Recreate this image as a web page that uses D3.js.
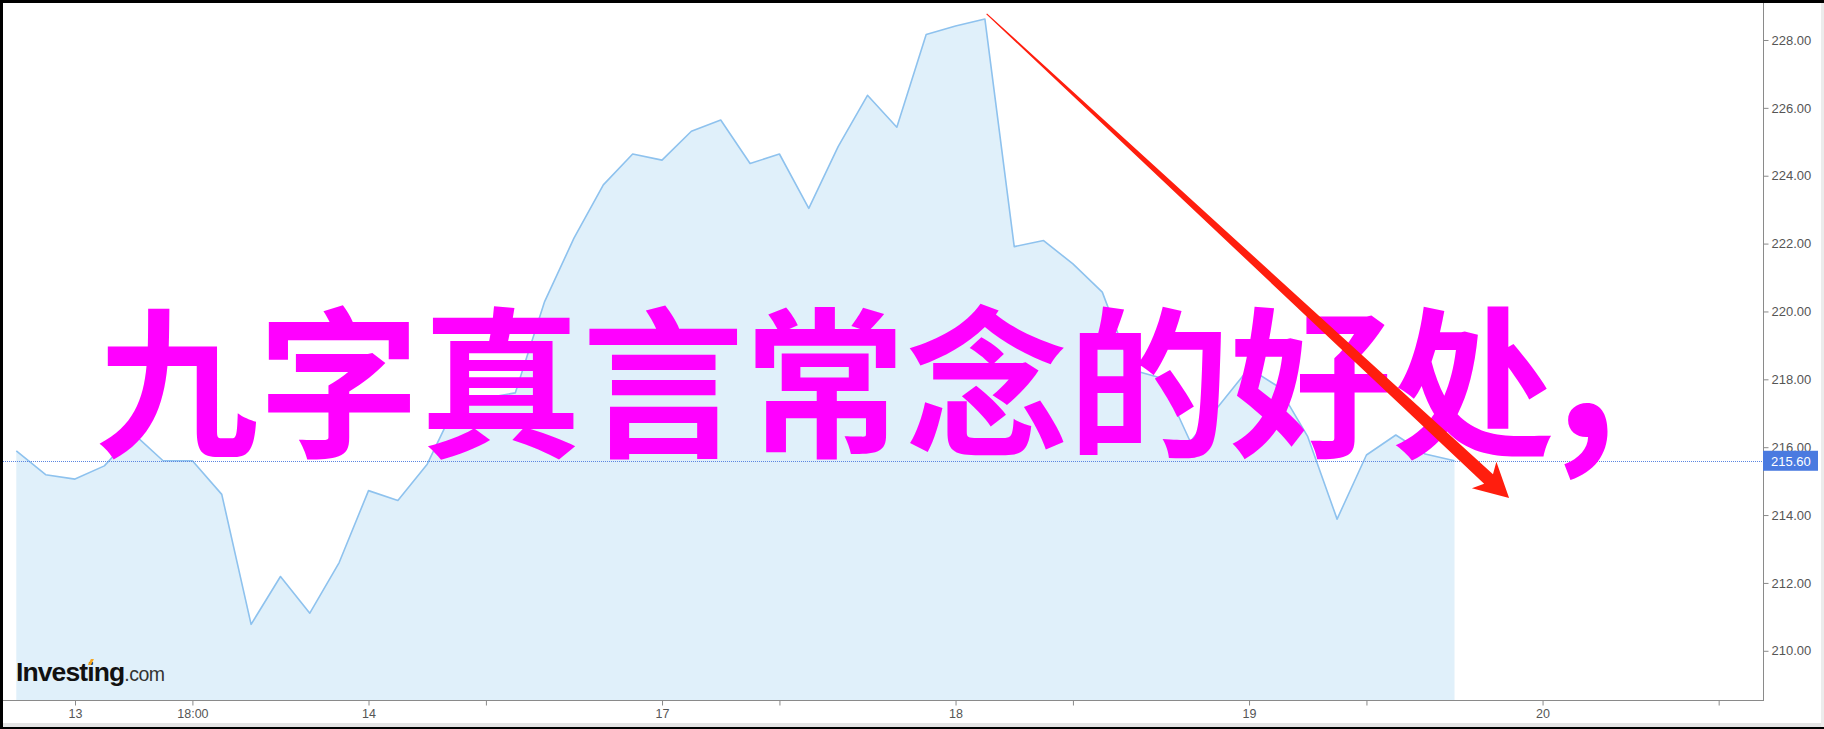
<!DOCTYPE html>
<html><head><meta charset="utf-8">
<script src="https://cdn.jsdelivr.net/npm/d3@7"></script>
<style>html,body{margin:0;padding:0;background:#000;overflow:hidden}</style>
</head><body><svg id="c" width="1824" height="729"></svg>
<script>
// ---- data ----
const prices = [215.89,215.19,215.06,215.45,216.39,215.60,215.60,214.61,210.78,212.19,
  211.11,212.60,214.72,214.43,215.50,217.30,217.45,217.60,220.29,222.16,
  223.73,224.64,224.46,225.31,225.64,224.36,224.64,223.04,224.86,226.37,
  225.43,228.16,228.41,228.62,221.91,222.09,221.40,220.57,218.28,218.04,
  216.16,217.25,218.33,217.78,216.31,213.88,215.77,216.36,215.80,215.60];
const steps = [0,1,2,3,4,5,6,7,8,9,10,11,12,13,14,15,16,17,18,19,20,21,22,23,24,
  25,26,27,28,29,30,31,32,33,34,35,36,37,38,39,40,41,42,43,44,45,46,47,48,49];
const xTickSteps = [2,6,12,16,22,26,32,36,42,46,52,58];
const xTickLabels = ["13","18:00","14","","17","","18","","19","","20",""];
const yTicks = [210,212,214,216,218,220,222,224,226,228];
const lastPrice = 215.60;
const titleText = "九字真言常念的好处";
const titlePunct = ",";
const arrowFrom = [33.06, 228.77];
const arrowTo = [50.86, 214.50];

// ---- layout ----
const svg = d3.select("#c");
const W = 1824, H = 729;
const plotL = 3, plotR = 1763, plotT = 3, plotB = 700;
const x = d3.scaleLinear().domain([0, 49]).range([16.3, 1454.5]);
const y = d3.scaleLinear().domain([208.55, 229.09]).range([plotB, plotT]);

// frame
svg.append("rect").attr("x",3).attr("y",3).attr("width",W-3).attr("height",724).attr("fill","#fff");
svg.append("rect").attr("x",3).attr("y",723).attr("width",W-3).attr("height",4).attr("fill","#e4e4e4");
svg.append("rect").attr("x",W-3).attr("y",3).attr("width",3).attr("height",724).attr("fill","#ececec");

const pts = steps.map((s,i)=>[s, prices[i]]);
// area
svg.append("path").datum(pts)
  .attr("d", d3.area().x(d=>x(d[0])).y0(plotB).y1(d=>y(d[1])))
  .attr("fill","#e0f0fa");
svg.append("path").datum(pts)
  .attr("d", d3.line().x(d=>x(d[0])).y(d=>y(d[1])))
  .attr("fill","none").attr("stroke","#8ec2ee").attr("stroke-width",1.6)
  .attr("stroke-linejoin","round");

// last price dotted line
svg.append("line").attr("x1",plotL).attr("x2",plotR)
  .attr("y1",Math.round(y(lastPrice))+0.5).attr("y2",Math.round(y(lastPrice))+0.5)
  .attr("stroke","#5b86e0").attr("stroke-width",1).attr("stroke-dasharray","1,1");

// axes
const yAxis = d3.axisRight(y).tickValues(yTicks).tickFormat(d3.format(".2f")).tickSize(5).tickPadding(3);
const gy = svg.append("g").attr("transform",`translate(${plotR+0.5},0)`).call(yAxis);
gy.select(".domain").attr("d",`M0,${plotT}V${plotB}`).attr("stroke","#8a8a8a");
gy.selectAll(".tick line").attr("stroke","#8a8a8a");
gy.selectAll(".tick text").attr("fill","#555").style("font","13px 'Liberation Sans', Arial, sans-serif");

const xAxis = d3.axisBottom(x).tickValues(xTickSteps)
  .tickFormat((d,i)=>xTickLabels[i]).tickSize(5).tickPadding(4);
const gx = svg.append("g").attr("transform",`translate(0,${plotB+0.5})`).call(xAxis);
gx.select(".domain").attr("d",`M${plotL},0H${plotR+1}`).attr("stroke","#8a8a8a");
gx.selectAll(".tick line").attr("stroke","#8a8a8a");
gx.selectAll(".tick text").attr("fill","#555").style("font","12.5px 'Liberation Sans', Arial, sans-serif");

// last price label
const ly = y(lastPrice);
svg.append("rect").attr("x",plotR).attr("y",ly-10).attr("width",55).attr("height",20).attr("fill","#4a7ae0");
svg.append("text").attr("x",plotR+8).attr("y",ly+5).attr("fill","#fff")
  .style("font","13px 'Liberation Sans', Arial, sans-serif").text(d3.format(".2f")(lastPrice));

// logo
const logo = svg.append("text").attr("x",16).attr("y",681);
const logoMain = logo.append("tspan").text("Investing").attr("fill","#111")
  .style("font","bold 26.5px 'Liberation Sans', Arial, sans-serif").style("letter-spacing","-0.9px");
logo.append("tspan").text(".com").attr("fill","#333")
  .style("font","19.5px 'Liberation Sans', Arial, sans-serif").style("letter-spacing","-0.5px");
// orange accent over the dot of the second "i"
try {
  const ext = logoMain.node().getExtentOfChar(6);
  const cx = ext.x + ext.width/2;
  svg.append("path")
    .attr("d", `M${cx-2.5},${681-16} L${cx+0.5},${681-16} L${cx+3.5},${681-22} L${cx+0.5},${681-22} Z`)
    .attr("fill","#f5a623");
} catch(e) {}

// title
const title = svg.append("text").attr("x",96).attr("y",445).attr("fill","#ff00ff")
  .style("font","bold 162px 'Noto Sans CJK SC', sans-serif");
title.append("tspan").text(titleText);
title.append("tspan").attr("dy",-7).style("font-size","196px").text(titlePunct);

// arrow
const ax0 = x(arrowFrom[0]), ay0 = y(arrowFrom[1]);
const ax1 = x(arrowTo[0]), ay1 = y(arrowTo[1]);
const dx = ax1-ax0, dy = ay1-ay0, L = Math.hypot(dx,dy);
const ux = dx/L, uy = dy/L, px = -uy, py = ux;
const P = (t,s)=>[ax0+ux*t+px*s, ay0+uy*t+py*s];
const headLen = 34, shaftEnd = L-28;
const poly = [P(0,-0.6), P(shaftEnd,-6.5), P(L-headLen,-18), P(L,0), P(L-headLen,18), P(shaftEnd,6.5), P(0,0.6)];
svg.append("path").attr("d", d3.line()(poly)+"Z").attr("fill","#ff1e0e");
</script></body></html>
